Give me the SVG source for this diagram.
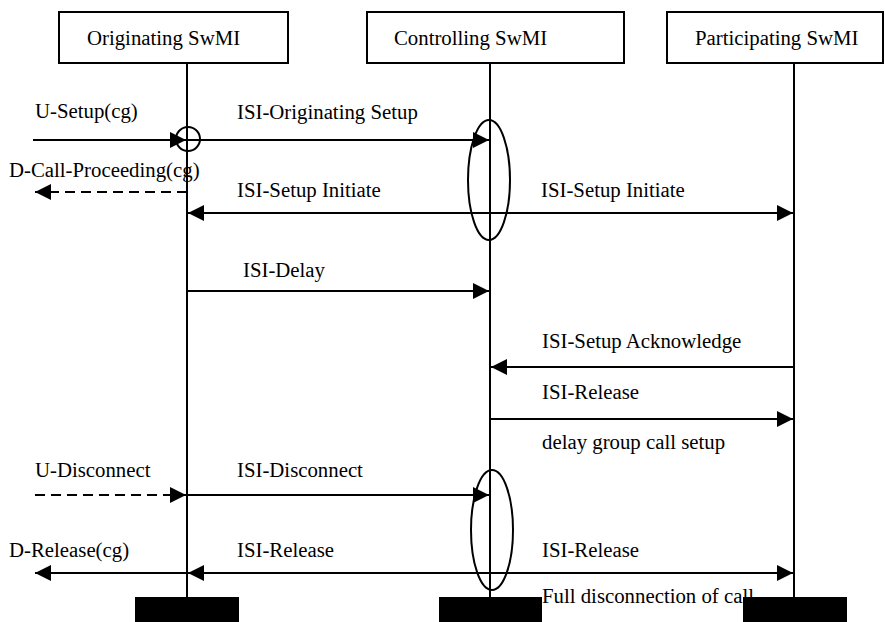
<svg xmlns="http://www.w3.org/2000/svg" width="885" height="622" viewBox="0 0 885 622">
<style>
text{font-family:"Liberation Serif","Times New Roman",serif;font-size:20.8px;fill:#000}
.box{fill:#fff;stroke:#000;stroke-width:2}
.life{stroke:#000;stroke-width:2}
.msg{stroke:#000;stroke-width:2;fill:none;marker-end:url(#ah)}
.dash{stroke-dasharray:10 6}
.ov{fill:none;stroke:#000;stroke-width:2}
.bar{fill:#000}
</style>
<defs>
<marker id="ah" markerUnits="userSpaceOnUse" markerWidth="17" markerHeight="16" refX="16" refY="8" orient="auto">
<path d="M0,0 L16,8 L0,16 z" fill="#000"/>
</marker>
</defs>
<g id="originating">
<rect class="box" x="59" y="12" width="229" height="51"/>
<text x="87" y="45">Originating SwMI</text>
<line class="life" x1="187" y1="63" x2="187" y2="597"/>
<rect class="bar" x="135" y="597" width="104" height="25"/>
</g>
<g id="controlling">
<rect class="box" x="367" y="12" width="257" height="51"/>
<text x="394" y="45">Controlling SwMI</text>
<line class="life" x1="490" y1="63" x2="490" y2="597"/>
</g>
<g id="participating">
<rect class="box" x="667" y="12" width="216" height="51"/>
<text x="695" y="45">Participating SwMI</text>
<line class="life" x1="794" y1="63" x2="794" y2="597"/>
</g>
<g id="connectors">
<text x="35" y="118">U-Setup(cg)</text>
<line class="msg" x1="33" y1="140" x2="186" y2="140"/>
<circle class="ov" cx="188" cy="139" r="12"/>
<text x="237" y="119">ISI-Originating Setup</text>
<line class="msg" x1="187" y1="140" x2="489" y2="140"/>
<ellipse class="ov" cx="489" cy="180" rx="21" ry="60"/>
<text x="9" y="177">D-Call-Proceeding(cg)</text>
<line class="msg dash" x1="187" y1="192" x2="35" y2="192"/>
<text x="237" y="197">ISI-Setup Initiate</text>
<line class="msg" x1="490" y1="213" x2="188" y2="213"/>
<text x="541" y="197">ISI-Setup Initiate</text>
<line class="msg" x1="490" y1="213" x2="793" y2="213"/>
<text x="243" y="277">ISI-Delay</text>
<line class="msg" x1="187" y1="291" x2="489" y2="291"/>
<text x="542" y="348">ISI-Setup Acknowledge</text>
<line class="msg" x1="794" y1="367" x2="491" y2="367"/>
<text x="542" y="399">ISI-Release</text>
<line class="msg" x1="490" y1="419" x2="793" y2="419"/>
<text x="542" y="449">delay group call setup</text>
<text x="35" y="477">U-Disconnect</text>
<line class="msg dash" x1="35" y1="495" x2="186" y2="495"/>
<text x="237" y="477">ISI-Disconnect</text>
<line class="msg" x1="187" y1="495" x2="489" y2="495"/>
<ellipse class="ov" cx="492" cy="530" rx="21" ry="60"/>
<text x="9" y="557">D-Release(cg)</text>
<line class="msg" x1="187" y1="573" x2="35" y2="573"/>
<text x="237" y="557">ISI-Release</text>
<line class="msg" x1="490" y1="573" x2="188" y2="573"/>
<text x="542" y="557">ISI-Release</text>
<line class="msg" x1="490" y1="573" x2="793" y2="573"/>
<text x="542" y="603">Full disconnection of call</text>
</g>
<rect class="bar" x="439" y="597" width="103" height="25"/>
<rect class="bar" x="743" y="597" width="104" height="25"/>
</svg>
